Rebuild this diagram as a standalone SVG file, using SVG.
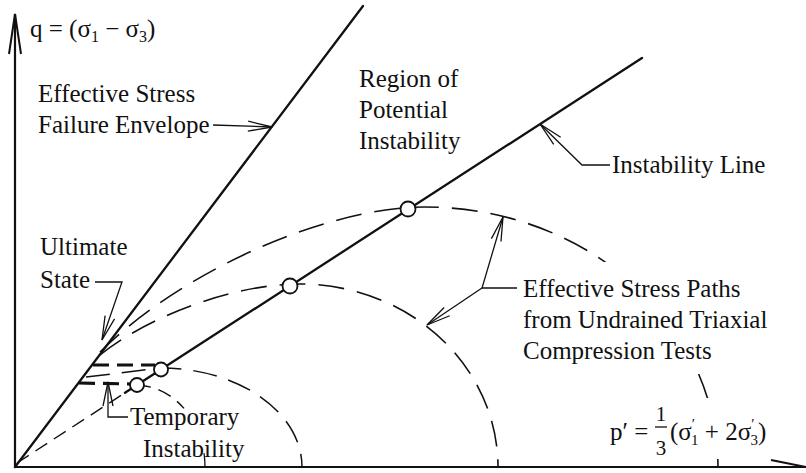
<svg xmlns="http://www.w3.org/2000/svg" width="806" height="473" viewBox="0 0 806 473">
<style>
text{font-family:"Liberation Serif","Times New Roman",serif;font-size:25px;fill:#111}
.ax{stroke:#111;stroke-width:2.2;fill:none}
.solid{stroke:#111;stroke-width:2.3;fill:none;stroke-linecap:round}
.path{stroke:#111;stroke-width:1.6;fill:none;stroke-dasharray:26 13}
.path3{stroke:#111;stroke-width:1.5;fill:none;stroke-dasharray:24 12}
.path4{stroke:#111;stroke-width:1.4;fill:none;stroke-dasharray:14 8}
.thick{stroke:#111;stroke-width:3.2;fill:none;stroke-dasharray:16 8}
.lead{stroke:#111;stroke-width:1.3;fill:none}
.pt{fill:#fff;stroke:#111;stroke-width:1.8}
.mask{fill:#fff;stroke:none}
.sub{font-size:16px}
</style>
<defs>
<marker id="arr" viewBox="0 0 26 12" markerWidth="26" markerHeight="12" refX="25" refY="6" orient="auto" markerUnits="userSpaceOnUse">
<path d="M1,1 L25,6 L1,11" fill="none" stroke="#111" stroke-width="1.3"/>
</marker>
<marker id="axarr" viewBox="0 0 42 14" markerWidth="42" markerHeight="14" refX="41" refY="7" orient="auto" markerUnits="userSpaceOnUse">
<path d="M1,1 L41,7 L1,13" fill="none" stroke="#111" stroke-width="2"/>
</marker>
</defs>
<rect width="806" height="473" fill="#fff"/>

<g id="axes">
<line class="ax" x1="15" y1="467" x2="15" y2="14" marker-end="url(#axarr)"/>
<line class="ax" x1="14" y1="467" x2="806" y2="467"/>
<line class="ax" x1="771" y1="460" x2="806" y2="467"/>
</g>

<g id="connectors">
<line id="failure-envelope" class="solid" x1="15" y1="467" x2="363" y2="6"/>
<line id="instability-line-dashed" class="path4" x1="17" y1="463" x2="125" y2="392.8"/>
<line id="instability-line" class="solid" x1="125" y1="392.8" x2="642" y2="58"/>
<path id="path1" class="path" d="M100,352 C185,268 330,207 425,207 A293 260 0 0 1 718,467"/>
<path id="path2" class="path" d="M100,355 C150,315 235,284 300,284 A198 183 0 0 1 498,467"/>
<path id="path3" class="path3" d="M86,377 L161,368 A141 99 0 0 1 302,467"/>
<path id="path4" class="path4" d="M137,385 A70 82 0 0 1 184,408.4"/>
<path id="path4b" class="lead" d="M204,453.2 A70 82 0 0 1 205,467"/>
<line id="jump-upper" class="thick" x1="93" y1="365" x2="155" y2="365"/>
<line id="jump-lower" class="thick" x1="79" y1="383" x2="131" y2="384"/>
<polyline class="lead" points="213,125 272,127" marker-end="url(#arr)"/>
<polyline class="lead" points="610,165 582,165 540,124" marker-end="url(#arr)"/>
<polyline class="lead" points="95,282 122,282 102,340" marker-end="url(#arr)"/>
<polyline class="lead" points="517,288 482,288 503,217" marker-end="url(#arr)"/>
<polyline class="lead" points="482,288 427,325" marker-end="url(#arr)"/>
<polyline class="lead" points="128,417 108,417 108,382" marker-end="url(#arr)"/>
</g>

<g id="masks">
<rect class="mask" x="519" y="262" width="252" height="104"/>
<rect class="mask" x="606" y="398" width="172" height="61"/>
</g>

<g id="points">
<circle class="pt" cx="137" cy="385" r="7"/>
<circle class="pt" cx="161" cy="369.5" r="7"/>
<circle class="pt" cx="290" cy="286" r="7.5"/>
<circle class="pt" cx="408" cy="209" r="7.5"/>
</g>

<g id="label-q"><text x="30" y="37">q = (σ<tspan class="sub" dy="5">1</tspan><tspan dy="-5"> − σ</tspan><tspan class="sub" dy="5">3</tspan><tspan dy="-5">)</tspan></text></g>
<g id="label-envelope"><text x="38" y="102">Effective Stress</text><text x="38" y="133">Failure Envelope</text></g>
<g id="label-region"><text x="359" y="87">Region of</text><text x="359" y="118">Potential</text><text x="359" y="149">Instability</text></g>
<g id="label-instability-line"><text x="612" y="173">Instability Line</text></g>
<g id="label-ultimate"><text x="40" y="255">Ultimate</text><text x="40" y="288">State</text></g>
<g id="label-paths"><text x="523" y="297">Effective Stress Paths</text><text x="523" y="328">from Undrained Triaxial</text><text x="523" y="359">Compression Tests</text></g>
<g id="label-temporary"><text x="130" y="425">Temporary</text><text x="143" y="457">Instability</text></g>
<g id="label-p">
<text x="610" y="440">p′ = </text>
<text x="661" y="421" font-size="21" text-anchor="middle" style="font-size:21px">1</text>
<line x1="655" y1="427" x2="667" y2="427" stroke="#111" stroke-width="1.3"/>
<text x="661" y="455" text-anchor="middle" style="font-size:21px">3</text>
<text x="670" y="440">(σ<tspan style="font-size:15px" dy="-11">′</tspan><tspan style="font-size:15px" dx="-4" dy="16">1</tspan><tspan dy="-5"> + 2σ</tspan><tspan style="font-size:15px" dy="-11">′</tspan><tspan style="font-size:15px" dx="-4" dy="16">3</tspan><tspan dy="-5">)</tspan></text>
</g>
</svg>
